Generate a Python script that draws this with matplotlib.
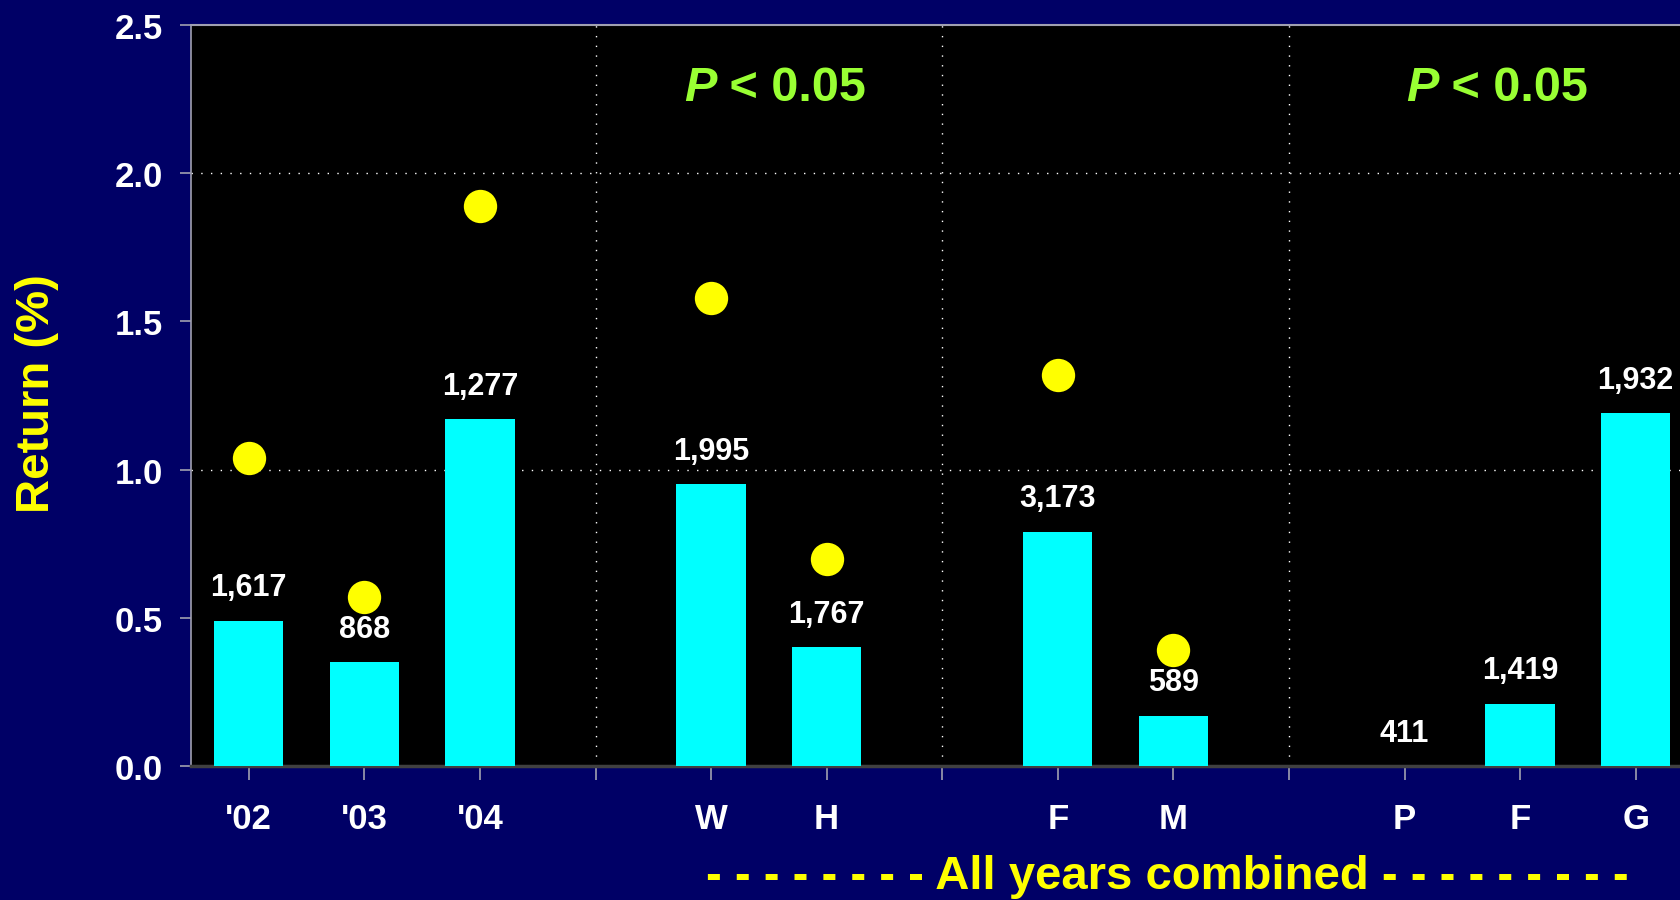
import matplotlib
matplotlib.use("Agg")
import matplotlib.pyplot as plt
import numpy as np

plt.rcParams['font.family'] = ['Liberation Sans', 'DejaVu Sans']
plt.rcParams['font.weight'] = 'bold'

# Category slots: empty strings are the group separators
categories = ["'02", "'03", "'04", "", "W", "H", "", "F", "M", "", "P", "F", "G"]
bar_values = [0.49, 0.35, 1.17, None, 0.95, 0.40, None, 0.79, 0.17, None, 0.0, 0.21, 1.19]
bar_counts = ["1,617", "868", "1,277", None, "1,995", "1,767", None, "3,173", "589", None, "411", "1,419", "1,932"]
dot_values = [1.04, 0.57, 1.89, None, 1.58, 0.70, None, 1.32, 0.39, None, None, None, None]
separators = [3, 6, 9]
sig_labels = [(4.5, "P", " < 0.05"), (10.75, "P", " < 0.05")]

NAVY = "#000066"
CYAN = "#00FFFF"
YELLOW = "#FFFF00"
GREEN = "#99FF33"

fig = plt.figure(figsize=(16.81, 9.009), dpi=100, facecolor=NAVY)
W, H = 1681, 901
ax = fig.add_axes([191 / W, (901 - 767) / H, 1502.5 / W, (767 - 26) / H])
ax.set_facecolor("black")

x = np.arange(len(categories))
bx = [i for i, v in enumerate(bar_values) if v is not None]
bv = [bar_values[i] for i in bx]
ax.bar(bx, bv, width=0.6, color=CYAN, zorder=3)

for i in bx:
    ax.annotate(bar_counts[i], (i, bar_values[i]), xytext=(0, 24), textcoords="offset points",
                ha="center", va="center", color="white", fontsize=22, fontweight="bold", zorder=5)

dx = [i for i, v in enumerate(dot_values) if v is not None]
dv = [dot_values[i] for i in dx]
ax.plot(dx, dv, "o", color=YELLOW, markersize=24, markeredgewidth=0, zorder=4)

ax.set_xlim(-0.5, len(categories) - 0.5)
ax.set_ylim(0, 2.5)

# Grid: horizontal dotted at whole units, vertical dotted at separators
for yv in [1.0, 2.0]:
    ax.axhline(yv, color="white", linewidth=1.0, linestyle=(0, (1, 6)), zorder=1)
for s in separators:
    ax.axvline(s, color="white", linewidth=1.0, linestyle=(0, (1, 6)), zorder=1)

ax.set_xticks(x)
ax.set_xticklabels(categories)
ax.set_yticks(np.arange(0, 2.51, 0.5))
ax.set_yticklabels([f"{v:.1f}" for v in np.arange(0, 2.51, 0.5)])
ax.tick_params(axis="x", colors="#a0a0b0", length=10, width=1.2, pad=16, labelcolor="white",
               labelsize=25)
ax.tick_params(axis="y", colors="#a0a0b0", length=8, width=1.2, pad=12, labelcolor="white",
               labelsize=25)
for lab in ax.get_xticklabels() + ax.get_yticklabels():
    lab.set_fontweight("bold")

ax.spines["left"].set_color("#a0a0b0")
ax.spines["left"].set_linewidth(1.2)
ax.spines["top"].set_color("#a0a0b0")
ax.spines["top"].set_linewidth(1.5)
ax.spines["bottom"].set_color("#404040")
ax.spines["bottom"].set_linewidth(2.5)
ax.spines["right"].set_visible(False)

for xp, pl, rest in sig_labels:
    ax.annotate(pl, (xp, 2.29), xytext=(-38, 0), textcoords="offset points",
                ha="right", va="center", color=GREEN, fontsize=35, fontweight="bold",
                fontstyle="italic")
    ax.annotate(rest, (xp, 2.29), xytext=(-38, 0), textcoords="offset points",
                ha="left", va="center", color=GREEN, fontsize=35, fontweight="bold")

fig.text(37 / W, 1 - 394 / H, "Return (%)", rotation=90, ha="center", va="center",
         color=YELLOW, fontsize=34, fontweight="bold")

fig.text(706 / W, 1 - 877 / H, "- " * 8 + "All years combined" + " -" * 9,
         ha="left", va="center", color=YELLOW, fontsize=34, fontweight="bold")

fig.savefig("out.png", dpi=100, facecolor=NAVY)
